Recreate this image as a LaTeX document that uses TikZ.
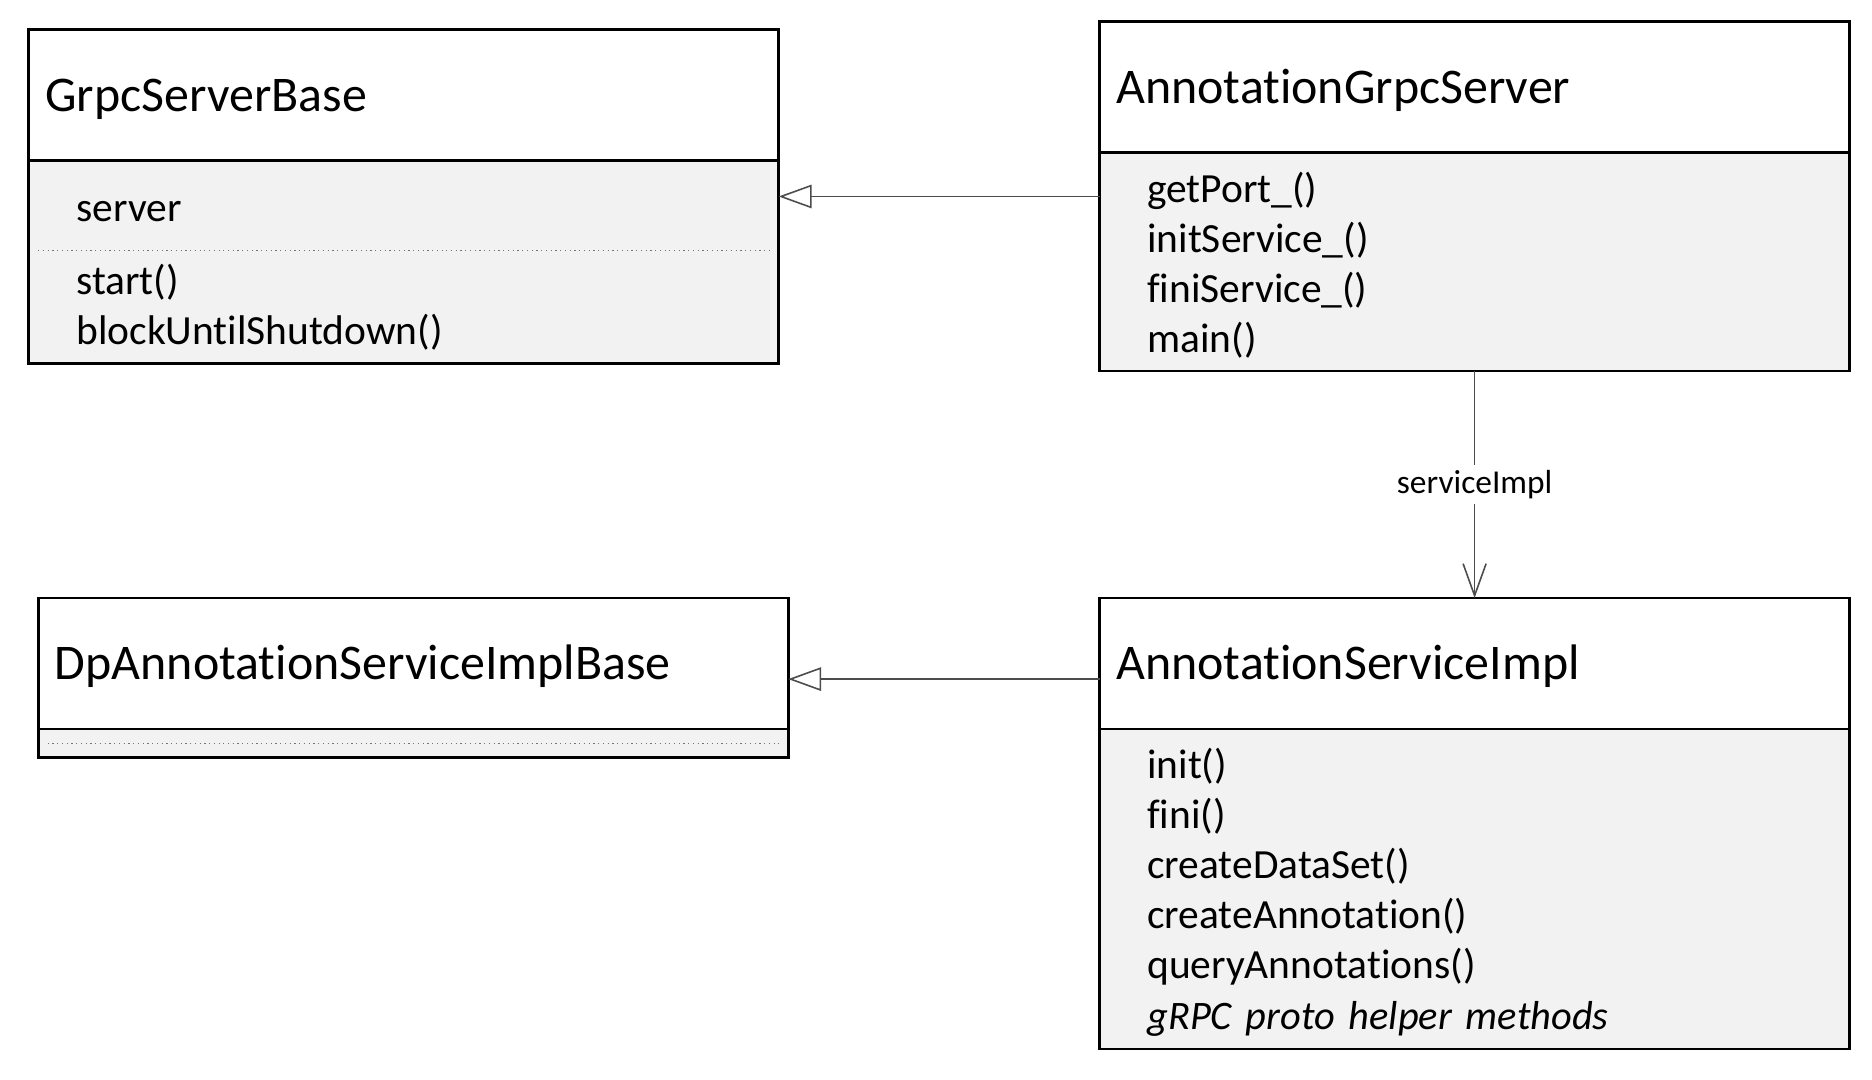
\documentclass[tikz,border=0pt]{standalone}
\usepackage{fontspec}
\setmainfont{Carlito}[Ligatures=NoCommon]
\usepackage{tikz}
\usetikzlibrary{arrows.meta, positioning}

\begin{document}
\begin{tikzpicture}[
  classhead/.style={draw, line width=0.85pt, fill=white, anchor=north west,
    outer sep=0pt, text width=7.166cm, inner xsep=0.167cm,
    execute at begin node=\rule{0pt}{11.6pt},
    minimum height=1.31cm, align=left, font=\fontsize{14.2}{17}\selectfont},
  classbody/.style={draw, line width=0.85pt, fill=black!5, outer sep=0pt,
    text width=6.546cm, inner xsep=0.477cm, align=left,
    font=\fontsize{11.8}{14.23}\selectfont},
  sepline/.style={draw=black!55, line width=0.35pt, densely dotted},
  inherit/.style={draw=black!70, line width=0.45pt,
    -{Triangle[open, length=3.3mm, width=2.35mm]}},
  assoc/.style={draw=black!70, line width=0.45pt,
    -{Straight Barb[length=3.2mm, width=2.3mm]}}
]
  \useasboundingbox (0,0) rectangle (18.72,-10.80);

  \node (grpcbase) [classhead] at (0.287,-0.298) {GrpcServerBase};
  \node (grpcbasebody) [classbody, below=0pt of grpcbase, minimum height=2.03cm]
    {\rule{0pt}{0.47cm}server\\[0.23cm]start()\\blockUntilShutdown()};

  \node (server) [classhead] at (10.996,-0.215) {AnnotationGrpcServer};
  \node (serverbody) [classbody, below=0pt of server, minimum height=2.185cm]
    {\rule{0pt}{10.5pt}getPort\_()\\initService\_()\\finiService\_()\\main()};

  \node (implbase) [classhead] at (0.382,-5.98) {DpAnnotationServiceImplBase};
  \node (implbasebody) [classbody, below=0pt of implbase, inner ysep=0pt,
    minimum height=0.285cm] {};

  \node (impl) [classhead] at (10.996,-5.98) {AnnotationServiceImpl};
  \node (implbody) [classbody, below=0pt of impl, minimum height=3.20cm]
    {\rule{0pt}{10.5pt}init()\\fini()\\createDataSet()\\createAnnotation()\\
     queryAnnotations()\\
     {\fontsize{11.5}{14.23}\selectfont\itshape gRPC proto helper methods}};

  % attribute / operation separators
  \draw[sepline] ([xshift=0.095cm, yshift=-0.895cm]grpcbasebody.north west)
    -- ([xshift=-0.095cm, yshift=-0.895cm]grpcbasebody.north east);
  \draw[sepline] ([xshift=0.095cm]implbasebody.west)
    -- ([xshift=-0.095cm]implbasebody.east);

  % generalisations
  \coordinate (gen1) at ([yshift=-0.44cm]serverbody.north west);
  \coordinate (gen2) at ([yshift=-0.156cm]impl.west);
  \draw[inherit] (gen1) -- (gen1 -| grpcbasebody.east);
  \draw[inherit] (gen2) -- (gen2 -| implbase.east);

  % association
  \draw[assoc] (serverbody) -- node (svclabel) [fill=white, inner sep=1.5pt,
    font=\fontsize{9.5}{11}\selectfont] {serviceImpl} (impl);
\end{tikzpicture}
\end{document}
